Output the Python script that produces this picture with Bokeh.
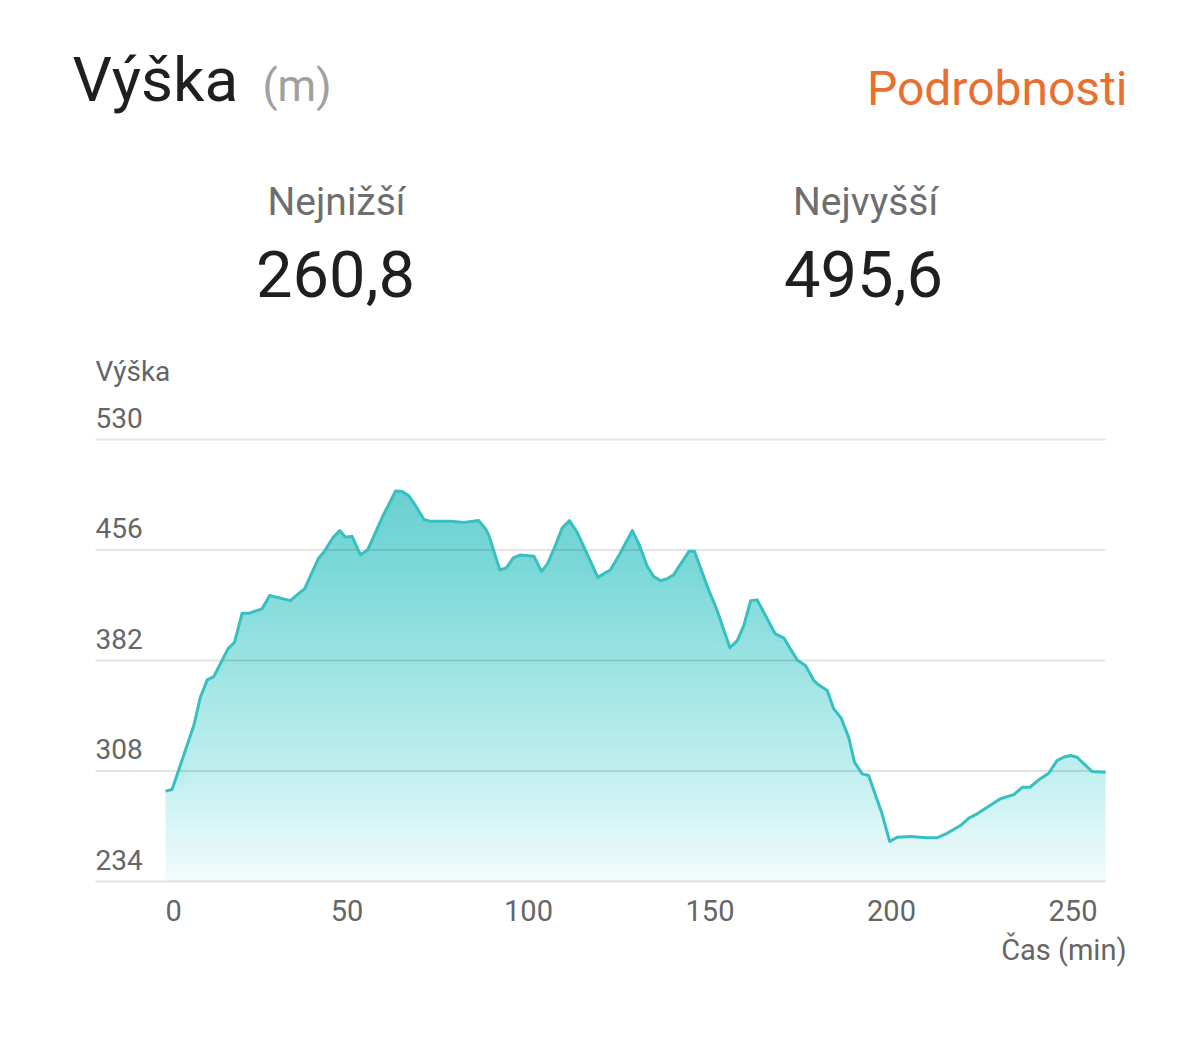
import numpy as np
from bokeh.plotting import figure
from bokeh.models import Label, Range1d
from bokeh.embed import file_html
from bokeh.resources import INLINE

# ---- data ----
time_min = [0, 1.8, 7.8, 9.6, 11.5, 13.3, 17.2, 19.0, 21.1, 22.9,
            26.6, 28.7, 34.4, 36.3, 38.3, 42.2, 43.6, 46.2, 48.0, 49.6,
            51.4, 53.7, 55.7, 59.7, 63.4, 65.2, 67.0, 68.9, 71.2, 73.0,
            78.5, 82.2, 86.3, 88.2, 89.1, 92.1, 93.9, 95.8, 97.8, 101.5,
            103.6, 105.3, 107.0, 109.3, 111.3, 113.4, 119.1, 122.6, 124.9, 128.6,
            130.4, 132.7, 134.5, 136.4, 138.2, 140.0, 144.2, 145.7, 149.7, 151.8,
            155.5, 157.5, 159.3, 161.2, 163.0, 168.0, 170.3, 174.0, 176.3, 178.6,
            180.2, 182.3, 184.1, 186.1, 188.2, 189.8, 191.9, 193.7, 197.4, 199.5,
            201.6, 205.2, 209.8, 212.6, 215.3, 219.0, 221.3, 223.6, 230.0, 233.7,
            236.0, 238.1, 240.6, 243.3, 245.6, 247.4, 249.3, 251.1, 255.3, 259.0]
elevation_m = [294.5, 295.6, 338.4, 357.4, 369.0, 371.2, 389.8, 394.2, 413.6, 413.6,
               416.6, 425.5, 422.1, 426.1, 430.0, 450.7, 454.5, 464.5, 469.0, 464.5,
               465.2, 452.7, 456.1, 477.9, 495.6, 495.1, 492.4, 485.7, 476.4, 475.2,
               475.2, 474.5, 475.7, 470.1, 465.6, 442.7, 444.0, 450.7, 452.7, 451.8,
               441.7, 447.1, 456.7, 470.8, 475.7, 467.9, 437.7, 442.7, 452.3, 469.0,
               460.1, 445.1, 438.2, 435.5, 436.7, 439.5, 455.1, 455.1, 428.8, 416.6,
               390.5, 395.3, 405.4, 422.1, 422.6, 399.8, 397.2, 382.4, 378.6, 368.6,
               365.2, 361.9, 349.6, 343.6, 330.6, 313.9, 306.1, 305.0, 279.3, 260.8,
               263.7, 264.1, 263.3, 263.3, 266.3, 271.5, 276.4, 279.3, 289.4, 292.2,
               297.1, 297.1, 302.1, 306.5, 315.0, 317.2, 318.4, 317.2, 307.6, 307.2]
y_ticks = [234, 308, 382, 456, 530]
x_ticks = [0, 50, 100, 150, 200, 250]
min_label = "260,8"
max_label = "495,6"

FONT = "Roboto"
W, H = 1190, 1035
BASE_FIX = 0.38   # empirical baseline correction (fraction of font size)

# ---- pixel geometry of the chart area (page pixels) ----
X0_PX, X_PER_MIN = 165.0, 3.63          # where t=0 sits, px per minute
Y_BASE_PX = 881.0                        # where y=234 sits
Y_PER_M = 442.0 / (y_ticks[-1] - y_ticks[0])
GRID_LEFT_PX = 95.0

t = np.array(time_min)
e = np.array(elevation_m)
ymin = y_ticks[0]

x_start = (0 - X0_PX) / X_PER_MIN
x_end = (W - X0_PX) / X_PER_MIN
y_top = ymin + Y_BASE_PX / Y_PER_M
y_bot = ymin - (H - Y_BASE_PX) / Y_PER_M
grid_x0 = (GRID_LEFT_PX - X0_PX) / X_PER_MIN

p = figure(width=W, height=H, output_backend="svg", toolbar_location=None,
           x_range=Range1d(x_start, x_end), y_range=Range1d(y_bot, y_top),
           x_axis_location=None, y_axis_location=None,
           min_border=0, min_border_left=0, min_border_right=0,
           min_border_top=0, min_border_bottom=0,
           background_fill_color="white", border_fill_color="white")
p.outline_line_color = None
p.grid.visible = False

# horizontal gridlines
p.segment(x0=[grid_x0] * len(y_ticks), x1=[t.max()] * len(y_ticks),
          y0=y_ticks, y1=y_ticks, line_color="#e4e4e4", line_width=2)

# gradient fill under the line (stacked translucent layers)
teal_fill = "#1ec3c3"
ytop_grad = e.max()


def target_alpha(v):
    f = np.clip((v - ymin) / (ytop_grad - ymin), 0, 1)
    return 0.035 + 0.48 * f ** 0.75


p.varea(x=t, y1=np.full_like(e, float(ymin)), y2=e, fill_color=teal_fill,
        fill_alpha=float(target_alpha(ymin)))
levels = np.linspace(ymin, ytop_grad, 45)
for lo, hi in zip(levels[:-1], levels[1:]):
    a = 1 - (1 - target_alpha(hi)) / (1 - target_alpha(lo))
    p.varea(x=t, y1=np.minimum(e, lo), y2=e, fill_color=teal_fill, fill_alpha=float(a))

p.line(t, e, line_color="#38bfc0", line_width=3, line_join="round")

# y tick labels above gridlines
YT = 28
for v in y_ticks:
    p.add_layout(Label(x=GRID_LEFT_PX, y=v, x_units="screen", y_units="data",
                       y_offset=11 + BASE_FIX * YT,
                       text=str(v), text_font=FONT, text_font_size=f"{YT}px",
                       text_color="#666666", text_align="left", text_baseline="alphabetic"))
# x tick labels (first one starts at its tick)
XT = 29
for i, v in enumerate(x_ticks):
    p.add_layout(Label(x=v, y=ymin, x_units="data", y_units="data",
                       y_offset=-40 + BASE_FIX * XT,
                       text=str(v), text_font=FONT, text_font_size=f"{XT}px",
                       text_color="#666666", text_align="left" if i == 0 else "center",
                       text_baseline="alphabetic"))


def lab(text, x, y_page, size, color, align="left"):
    p.add_layout(Label(x=x, y=H - y_page + BASE_FIX * size, x_units="screen", y_units="screen",
                       text=text, text_font=FONT, text_font_size=f"{size}px",
                       text_color=color, text_align=align, text_baseline="alphabetic"))


lab("Výška", 72, 103, 62, "#1f1f1f")
lab("(m)", 262, 102, 44, "#a0a0a0")
lab("Podrobnosti", 1127, 106, 48, "#E96F2F", "right")
lab("Nejnižší", 336, 216, 39, "#6e6e6e", "center")
lab(min_label, 335, 298, 65, "#1f1f1f", "center")
lab("Nejvyšší", 865, 216, 39, "#6e6e6e", "center")
lab(max_label, 863, 298, 65, "#1f1f1f", "center")
lab("Výška", 95, 381.5, 28, "#666666")
lab("Čas (min)", 1126, 961, 29, "#666666", "right")

open("out.html", "w").write(file_html(p, INLINE))
